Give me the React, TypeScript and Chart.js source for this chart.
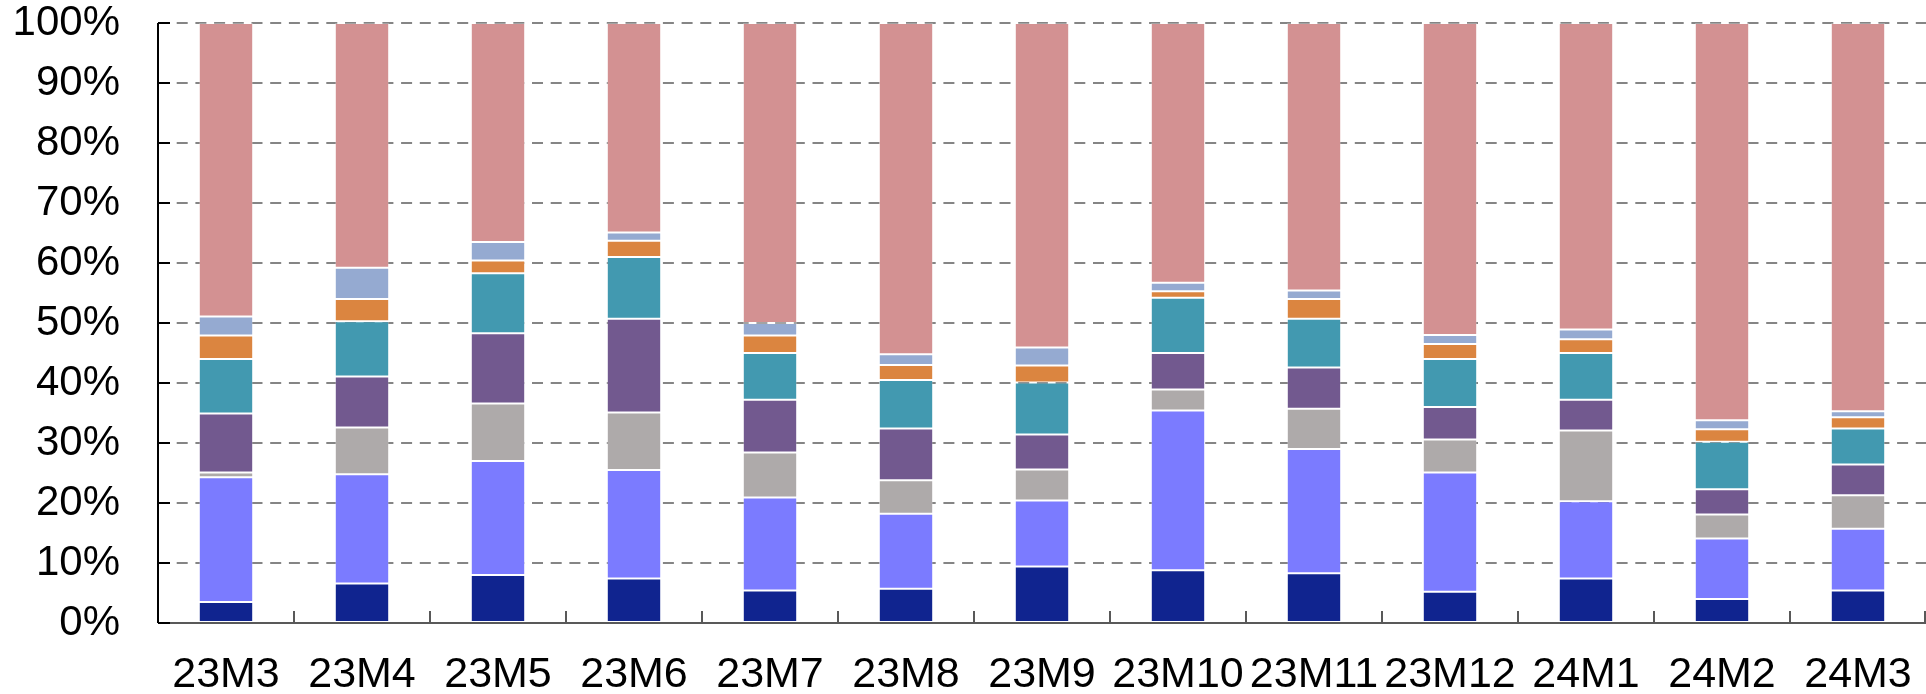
import React, { useEffect, useRef } from "react";
import { Chart, registerables } from "chart.js";

Chart.register(...registerables);

const categories = ["23M3", "23M4", "23M5", "23M6", "23M7", "23M8", "23M9", "23M10", "23M11", "23M12", "24M1", "24M2", "24M3"];

const seriesNavy = [3.5, 6.6, 8.0, 7.4, 5.4, 5.7, 9.4, 8.8, 8.3, 5.2, 7.4, 4.0, 5.4];
const seriesBlue = [20.8, 18.2, 19.0, 18.1, 15.5, 12.5, 11.0, 26.6, 20.7, 19.9, 12.9, 10.1, 10.3];
const seriesGray = [0.8, 7.8, 9.6, 9.6, 7.5, 5.6, 5.2, 3.5, 6.7, 5.5, 11.8, 4.0, 5.6];
const seriesPurple = [9.8, 8.5, 11.7, 15.6, 8.8, 8.6, 5.8, 6.1, 6.9, 5.4, 5.1, 4.2, 5.1];
const seriesTeal = [9.1, 9.2, 10.0, 10.3, 7.8, 8.1, 8.7, 9.2, 8.1, 8.0, 7.8, 7.9, 6.0];
const seriesOrange = [3.9, 3.7, 2.1, 2.7, 2.9, 2.5, 2.8, 1.1, 3.3, 2.5, 2.3, 2.1, 1.9];
const seriesLightBlue = [3.2, 5.2, 3.1, 1.4, 2.1, 1.8, 3.0, 1.4, 1.4, 1.5, 1.6, 1.5, 1.0];
const seriesPink = [48.9, 40.8, 36.5, 34.9, 50.0, 55.2, 54.1, 43.3, 44.6, 52.0, 51.1, 66.2, 64.7];

const yTicks = [0, 10, 20, 30, 40, 50, 60, 70, 80, 90, 100];

const FONT = "'Liberation Sans', Arial, sans-serif";

const axisTicksPlugin = {
  id: "axisTicks",
  afterDatasetsDraw(chart: any) {
    const { ctx, chartArea, scales } = chart;
    const x = scales.x;
    const y = scales.y;
    ctx.save();
    ctx.strokeStyle = "#595959";
    ctx.lineWidth = 2;
    const n = categories.length;
    const half = (chartArea.right - chartArea.left) / n / 2;
    for (let i = 1; i <= n; i++) {
      const px = i < n ? x.getPixelForValue(i) - half : chartArea.right - 1;
      ctx.beginPath();
      ctx.moveTo(Math.round(px), chartArea.bottom);
      ctx.lineTo(Math.round(px), chartArea.bottom - 12);
      ctx.stroke();
    }
    ctx.beginPath();
    ctx.moveTo(chartArea.left, chartArea.bottom);
    ctx.lineTo(chartArea.right, chartArea.bottom);
    ctx.stroke();
    ctx.strokeStyle = "#000000";
    ctx.lineWidth = 2;
    ctx.beginPath();
    ctx.moveTo(chartArea.left, chartArea.top);
    ctx.lineTo(chartArea.left, chartArea.bottom);
    ctx.stroke();
    for (const v of yTicks) {
      const py = y.getPixelForValue(v);
      ctx.beginPath();
      ctx.moveTo(chartArea.left, py);
      ctx.lineTo(chartArea.left + 12, py);
      ctx.stroke();
    }
    ctx.restore();
  },
};

export default function App() {
  const ref = useRef<HTMLCanvasElement | null>(null);
  useEffect(() => {
    if (!ref.current) return;
    const mk = (label: string, data: number[], color: string) => ({
      label,
      data,
      backgroundColor: color,
      borderColor: "rgba(255,255,255,0.25)",
      borderWidth: 1,
      borderSkipped: false,
      barPercentage: 0.4,
      categoryPercentage: 1.0,
    });
    const chart = new Chart(ref.current, {
      type: "bar",
      data: {
        labels: categories,
        datasets: [
          mk("navy", seriesNavy, "#10248F"),
          mk("blue", seriesBlue, "#7B7BFF"),
          mk("gray", seriesGray, "#AEAAAA"),
          mk("purple", seriesPurple, "#72598F"),
          mk("teal", seriesTeal, "#4299B0"),
          mk("orange", seriesOrange, "#DB8540"),
          mk("lightblue", seriesLightBlue, "#95AAD1"),
          mk("pink", seriesPink, "#D39192"),
        ],
      },
      options: {
        animation: false,
        responsive: true,
        maintainAspectRatio: false,
        layout: { padding: { top: 23, right: 0, left: 0, bottom: 0 } },
        plugins: { legend: { display: false }, tooltip: { enabled: false } },
        scales: {
          x: {
            stacked: true,
            afterFit: (s: any) => {
              s.height = 71;
              s.paddingLeft = 0;
              s.paddingRight = 0;
            },
            grid: { display: false, drawTicks: false },
            border: { display: false },
            ticks: {
              padding: 26,
              color: "#000000",
              font: { family: FONT, size: 43 },
              maxRotation: 0,
              autoSkip: false,
            },
          },
          y: {
            stacked: true,
            min: 0,
            max: 100,
            afterFit: (s: any) => {
              s.width = 158;
              s.paddingTop = 0;
              s.paddingBottom = 0;
            },
            afterBuildTicks: (s: any) => {
              s.ticks = yTicks.map((v) => ({ value: v }));
            },
            grid: {
              color: (c: any) => (c.tick && c.tick.value === 0 ? "rgba(0,0,0,0)" : "#858585"),
              lineWidth: 2,
              drawTicks: false,
            },
            border: { display: false, dash: [11, 7.7] },
            ticks: {
              padding: 38,
              color: "#000000",
              font: { family: FONT, size: 42 },
              callback: (v: any) => v + "%",
            },
          },
        },
      },
      plugins: [axisTicksPlugin],
    });
    return () => chart.destroy();
  }, []);
  return (
    <div style={{ position: "fixed", left: 0, top: 0, width: 1926, height: 694, background: "#ffffff" }}>
      <canvas ref={ref} />
    </div>
  );
}
